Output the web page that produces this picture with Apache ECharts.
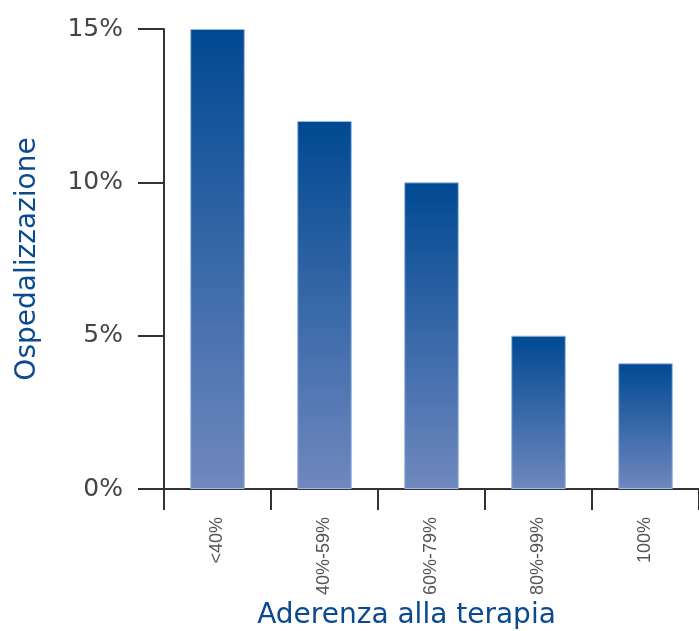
<!DOCTYPE html>
<html>
<head>
<meta charset="utf-8">
<script src="https://cdn.jsdelivr.net/npm/echarts@6/dist/echarts.min.js"></script>
<style>html,body{margin:0;padding:0;background:#fff}#c{width:699px;height:631px}</style>
</head>
<body>
<div id="c"></div>
<script>
const categories = ['<40%', '40%-59%', '60%-79%', '80%-99%', '100%'];
const values = [15, 12, 10, 5, 4.1];
const yTicks = [0, 5, 10, 15];

const chart = echarts.init(document.getElementById('c'), null, {renderer: 'canvas'});
chart.setOption({
  animation: false,
  grid: {left: 164, right: 0, top: 29, bottom: 142, containLabel: false, outerBoundsMode: 'none'},
  xAxis: {
    type: 'category',
    data: categories,
    name: 'Aderenza alla terapia',
    nameLocation: 'middle',
    nameGap: 113,
    nameMoveOverlap: false,
    nameTextStyle: {color: '#0b4a8f', fontSize: 28, fontFamily: 'DejaVu Sans', padding: [0, 50, 0, 0]},
    axisLine: {lineStyle: {color: '#333', width: 2}},
    axisTick: {show: true, length: 21, lineStyle: {color: '#333', width: 2}},
    axisLabel: {rotate: 90, margin: 28, color: '#555', fontSize: 18, fontFamily: 'Liberation Sans'}
  },
  yAxis: {
    type: 'value',
    min: 0, max: 15, interval: 5,
    name: 'Ospedalizzazione',
    nameLocation: 'middle',
    nameGap: 122,
    nameMoveOverlap: false,
    nameTextStyle: {color: '#0b4a8f', fontSize: 28, fontFamily: 'DejaVu Sans'},
    axisLine: {show: true, lineStyle: {color: '#333', width: 2}},
    axisTick: {show: true, length: 26, lineStyle: {color: '#333', width: 2}},
    splitLine: {show: false},
    axisLabel: {margin: 41, color: '#444', fontSize: 25, fontFamily: 'DejaVu Sans',
      formatter: v => yTicks.includes(v) ? v + '%' : ''}
  },
  series: [{
    type: 'bar',
    data: values,
    barWidth: '51%',
    itemStyle: {
      borderColor: '#9bbbe6',
      borderWidth: 1,
      color: new echarts.graphic.LinearGradient(0, 0, 0, 1, [
        {offset: 0, color: '#004992'},
        {offset: 1, color: '#7088be'}
      ])
    }
  }]
});
</script>
</body>
</html>
